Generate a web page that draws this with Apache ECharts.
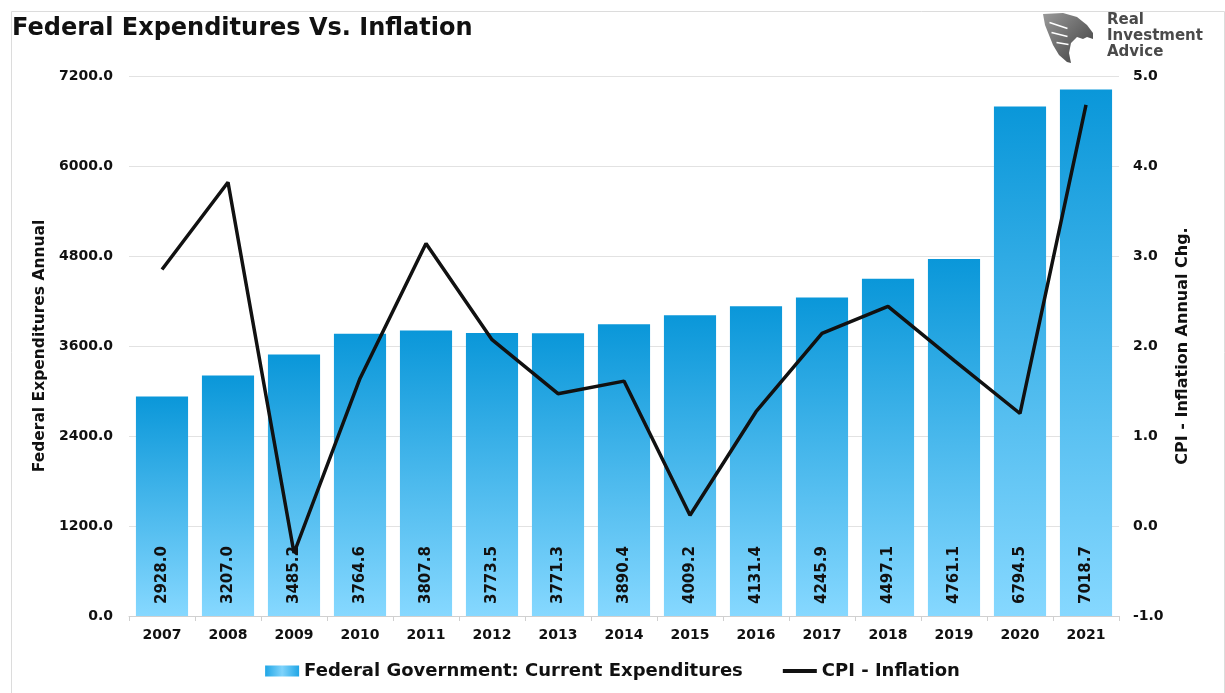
<!DOCTYPE html>
<html><head><meta charset="utf-8">
<script src="https://cdn.jsdelivr.net/npm/echarts@6/dist/echarts.min.js"></script>
<style>html,body{margin:0;padding:0;background:#fff}#c{width:1225px;height:693px}</style>
</head><body><div id="c"></div>
<script>
const years = ['2007','2008','2009','2010','2011','2012','2013','2014','2015','2016','2017','2018','2019','2020','2021'];
const expenditures = [2928.0,3207.0,3485.2,3764.6,3807.8,3773.5,3771.3,3890.4,4009.2,4131.4,4245.9,4497.1,4761.1,6794.5,7018.7];
const cpi = [2.85,3.82,-0.30,1.64,3.14,2.07,1.47,1.61,0.12,1.27,2.14,2.44,1.84,1.25,4.68];
const leftTicks = {min:0,max:7200,interval:1200};
const rightTicks = {min:-1,max:5,interval:1};

const chart = echarts.init(document.getElementById('c'));
const font = '"DejaVu Sans", Arial, sans-serif';
const barGrad = new echarts.graphic.LinearGradient(0,0,0,1,[{offset:0,color:'#0a97d9'},{offset:1,color:'#86d8ff'}]);
const iconGrad = new echarts.graphic.LinearGradient(0,0,1,0,[{offset:0,color:'#20a6e6'},{offset:0.5,color:'#7fd3fb'},{offset:1,color:'#20a6e6'}]);
chart.setOption({
  animation:false,
  textStyle:{fontFamily:font},
  graphic:[
    {type:'rect',left:9,top:9,shape:{width:1213,height:690},style:{fill:'none',stroke:'#dcdcdc',lineWidth:1},silent:true},
    {type:'text',left:12,top:17,style:{text:'Federal Expenditures Vs. Inflation',font:'bold 24px '+font,fill:'#111'}},
    {type:'polygon',left:1043,top:13,shape:{points:[[0,1],[20,0],[34,4],[44,12],[50,20],[50,26],[44,24],[40,26],[34,24],[28,30],[26,40],[28,50],[24,49],[16,42],[10,32],[6,22],[2,12]]},
     style:{fill:new echarts.graphic.LinearGradient(0,0,1,1,[{offset:0,color:'#9a9a9a'},{offset:1,color:'#3c3c3c'}])}},
    {type:'polyline',left:1047,top:20,shape:{points:[[0,0],[18,6]]},style:{stroke:'#fff',lineWidth:1.5}},
    {type:'polyline',left:1049,top:30,shape:{points:[[0,0],[16,4]]},style:{stroke:'#fff',lineWidth:1.5}},
    {type:'polyline',left:1054,top:40,shape:{points:[[0,0],[12,2]]},style:{stroke:'#fff',lineWidth:1.5}},
    {type:'text',left:1107,top:12,style:{text:'Real\nInvestment\nAdvice',font:'bold 15px '+font,fill:'#4a4a4a',lineHeight:16}}
  ],
  grid:{left:129,right:106,top:76,bottom:77},
  legend:{bottom:8,left:'center',itemGap:40,itemWidth:34,itemHeight:11,
    textStyle:{fontSize:18,fontWeight:'bold',color:'#111',fontFamily:font},
    data:[{name:'Federal Government: Current Expenditures',icon:'rect',itemStyle:{color:iconGrad}},
          {name:'CPI - Inflation',icon:'path://M0,0 L30,0 L30,3.5 L0,3.5 Z'}]},
  xAxis:{type:'category',data:years,
    axisLine:{lineStyle:{color:'#d0d0d0'}},
    axisTick:{show:true,lineStyle:{color:'#d0d0d0'},length:5},
    axisLabel:{fontSize:14,fontWeight:'bold',color:'#111',margin:12}},
  yAxis:[
    {type:'value',min:leftTicks.min,max:leftTicks.max,interval:leftTicks.interval,
     name:'Federal Expenditures Annual',nameLocation:'middle',nameGap:76,nameRotate:90,
     nameTextStyle:{fontSize:15.5,fontWeight:'bold',color:'#111'},
     axisLabel:{fontSize:14,fontWeight:'bold',color:'#111',margin:16,formatter:v=>v.toFixed(1)},
     splitLine:{lineStyle:{color:'#e2e2e2'}},axisLine:{show:false},axisTick:{show:false}},
    {type:'value',min:rightTicks.min,max:rightTicks.max,interval:rightTicks.interval,
     name:'CPI - Inflation Annual Chg.',nameLocation:'middle',nameGap:53,nameRotate:90,
     nameTextStyle:{fontSize:16,fontWeight:'bold',color:'#111'},
     axisLabel:{fontSize:14,fontWeight:'bold',color:'#111',margin:14,formatter:v=>v.toFixed(1)},
     splitLine:{show:false},axisLine:{show:false},axisTick:{show:false}}
  ],
  series:[
    {name:'Federal Government: Current Expenditures',type:'bar',data:expenditures,barCategoryGap:'21%',
     itemStyle:{color:barGrad},
     label:{show:true,position:'insideBottom',rotate:90,align:'left',verticalAlign:'middle',distance:12,
       fontSize:15,fontWeight:'bold',color:'#111',formatter:p=>p.value.toFixed(1)}},
    {name:'CPI - Inflation',type:'line',yAxisIndex:1,data:cpi,symbol:'none',
     lineStyle:{color:'#111',width:3.5},itemStyle:{color:'#111'},z:5}
  ]
});
</script></body></html>
